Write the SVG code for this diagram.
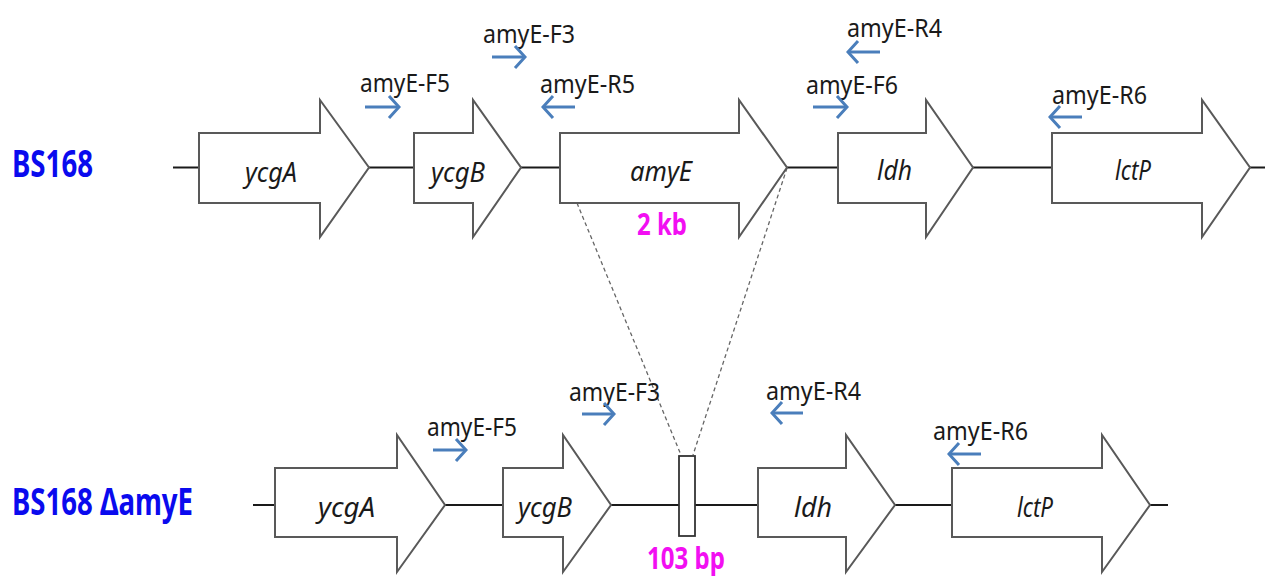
<svg xmlns="http://www.w3.org/2000/svg" width="1268" height="583" viewBox="0 0 1268 583">
  <style>
    .backbone { stroke: #1a1a1a; stroke-width: 2; fill: none; }
    .gene { fill: #ffffff; stroke: #595959; stroke-width: 2; stroke-linejoin: miter; }
    .gname { font-family: "Noto Sans", "Open Sans", sans-serif; font-style: italic; font-size: 27px; fill: #1a1a1a; }
    .strain { font-family: "Noto Sans", "Open Sans", sans-serif; font-weight: bold; font-size: 37px; fill: #0a0aee; }
    .size { font-family: "Noto Sans", "Open Sans", sans-serif; font-weight: bold; font-size: 31px; fill: #f20ff2; }
    .plabel { font-family: "Noto Sans", "Open Sans", sans-serif; font-size: 25px; fill: #1a1a1a; }
    .primer { stroke: #4a7ebb; stroke-width: 3; fill: none; }
    .zoomline { stroke: #666666; stroke-width: 1.3; stroke-dasharray: 4 3; fill: none; }
    .insert { fill: #ffffff; stroke: #333333; stroke-width: 1.8; }
  </style>
  <defs>
    <marker id="chev" markerUnits="userSpaceOnUse" viewBox="0 0 14 26" refX="12" refY="13" markerWidth="14" markerHeight="26" orient="auto">
      <path d="M2 2 L12 13 L2 24" fill="none" stroke="#4a7ebb" stroke-width="3"/>
    </marker>
  </defs>

  <rect width="1268" height="583" fill="#ffffff"/>

  <!-- strain labels -->
  <g id="label-wt"><text class="strain" x="12" y="177" textLength="81" lengthAdjust="spacingAndGlyphs">BS168</text></g>
  <g id="label-mut"><text class="strain" x="12" y="515" textLength="181" lengthAdjust="spacingAndGlyphs">BS168 ΔamyE</text></g>

  <!-- chromosome backbones and deletion guide lines -->
  <g id="connectors">
    <line class="backbone" x1="173" y1="167.5" x2="1265" y2="167.5"/>
    <line class="backbone" x1="253" y1="505" x2="1168" y2="505"/>
    <line class="zoomline" x1="577" y1="203" x2="681" y2="455"/>
    <line class="zoomline" x1="787" y1="168" x2="693" y2="455"/>
  </g>

  <!-- wild-type locus -->
  <g id="wt-ycgA">
    <polygon class="gene" points="199,133 320,133 320,100 369,167.5 320,237 320,203 199,203"/>
    <text class="gname" x="245" y="182" textLength="52" lengthAdjust="spacingAndGlyphs">ycgA</text>
  </g>
  <g id="wt-ycgB">
    <polygon class="gene" points="414,133 473,133 473,100 521,167.5 473,237 473,203 414,203"/>
    <text class="gname" x="431" y="182" textLength="54" lengthAdjust="spacingAndGlyphs">ycgB</text>
  </g>
  <g id="wt-amyE">
    <polygon class="gene" points="560,133 739,133 739,100 787,167.5 739,237 739,203 560,203"/>
    <text class="gname" x="630" y="181" textLength="62" lengthAdjust="spacingAndGlyphs">amyE</text>
    <text class="size" x="637" y="235" textLength="50" lengthAdjust="spacingAndGlyphs">2 kb</text>
  </g>
  <g id="wt-ldh">
    <polygon class="gene" points="838,133 926,133 926,100 973,167.5 926,237 926,203 838,203"/>
    <text class="gname" x="877" y="180" textLength="35" lengthAdjust="spacingAndGlyphs">ldh</text>
  </g>
  <g id="wt-lctP">
    <polygon class="gene" points="1052,133 1202,133 1202,100 1250,167.5 1202,237 1202,203 1052,203"/>
    <text class="gname" x="1115" y="180" textLength="36" lengthAdjust="spacingAndGlyphs">lctP</text>
  </g>

  <!-- wild-type primers -->
  <g id="wt-primers">
    <text class="plabel" x="360" y="92" textLength="90" lengthAdjust="spacingAndGlyphs">amyE-F5</text>
    <line class="primer" x1="365" y1="107" x2="399" y2="107" marker-end="url(#chev)"/>
    <text class="plabel" x="483" y="43" textLength="92" lengthAdjust="spacingAndGlyphs">amyE-F3</text>
    <line class="primer" x1="492" y1="57" x2="525" y2="57" marker-end="url(#chev)"/>
    <text class="plabel" x="540" y="93" textLength="95" lengthAdjust="spacingAndGlyphs">amyE-R5</text>
    <line class="primer" x1="575" y1="107" x2="543" y2="107" marker-end="url(#chev)"/>
    <text class="plabel" x="847" y="37" textLength="95" lengthAdjust="spacingAndGlyphs">amyE-R4</text>
    <line class="primer" x1="880" y1="52" x2="848" y2="52" marker-end="url(#chev)"/>
    <text class="plabel" x="806" y="94" textLength="92" lengthAdjust="spacingAndGlyphs">amyE-F6</text>
    <line class="primer" x1="813" y1="107" x2="847" y2="107" marker-end="url(#chev)"/>
    <text class="plabel" x="1052" y="104" textLength="95" lengthAdjust="spacingAndGlyphs">amyE-R6</text>
    <line class="primer" x1="1082" y1="117" x2="1050" y2="117" marker-end="url(#chev)"/>
  </g>

  <!-- deletion mutant locus -->
  <g id="mut-ycgA">
    <polygon class="gene" points="275,468 397,468 397,435 445,505 397,572 397,537 275,537"/>
    <text class="gname" x="318" y="517" textLength="57" lengthAdjust="spacingAndGlyphs">ycgA</text>
  </g>
  <g id="mut-ycgB">
    <polygon class="gene" points="503,468 563,468 563,435 611,505 563,572 563,537 503,537"/>
    <text class="gname" x="518" y="517" textLength="54" lengthAdjust="spacingAndGlyphs">ycgB</text>
  </g>
  <g id="mut-scar">
    <rect class="insert" x="679" y="456" width="16" height="80"/>
    <text class="size" x="647" y="569" textLength="78" lengthAdjust="spacingAndGlyphs">103 bp</text>
  </g>
  <g id="mut-ldh">
    <polygon class="gene" points="758,468 846,468 846,435 895,505 846,572 846,537 758,537"/>
    <text class="gname" x="794" y="517" textLength="38" lengthAdjust="spacingAndGlyphs">ldh</text>
  </g>
  <g id="mut-lctP">
    <polygon class="gene" points="952,468 1102,468 1102,435 1150,505 1102,572 1102,537 952,537"/>
    <text class="gname" x="1017" y="517" textLength="36" lengthAdjust="spacingAndGlyphs">lctP</text>
  </g>

  <!-- mutant primers -->
  <g id="mut-primers">
    <text class="plabel" x="427" y="436" textLength="90" lengthAdjust="spacingAndGlyphs">amyE-F5</text>
    <line class="primer" x1="433" y1="450" x2="466" y2="450" marker-end="url(#chev)"/>
    <text class="plabel" x="569" y="401" textLength="91" lengthAdjust="spacingAndGlyphs">amyE-F3</text>
    <line class="primer" x1="582" y1="414" x2="614" y2="414" marker-end="url(#chev)"/>
    <text class="plabel" x="766" y="400" textLength="95" lengthAdjust="spacingAndGlyphs">amyE-R4</text>
    <line class="primer" x1="803" y1="413" x2="772" y2="413" marker-end="url(#chev)"/>
    <text class="plabel" x="933" y="440" textLength="95" lengthAdjust="spacingAndGlyphs">amyE-R6</text>
    <line class="primer" x1="981" y1="454" x2="949" y2="454" marker-end="url(#chev)"/>
  </g>
</svg>
